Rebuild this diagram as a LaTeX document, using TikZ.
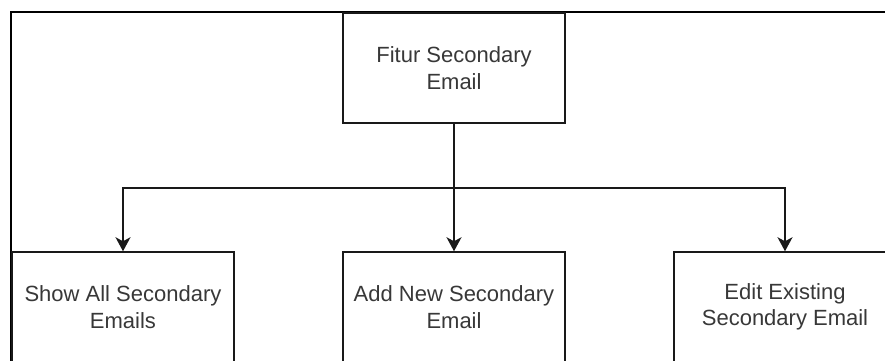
\documentclass[tikz,border=0pt]{standalone}
\usepackage{fontspec}
\setmainfont{Liberation Sans}
\usetikzlibrary{arrows.meta}
\begin{document}
\begin{tikzpicture}[x=1pt,y=-1pt,
  box/.style={draw=black!90, line width=1.5pt, fill=white, minimum width=222pt, minimum height=110pt,
    inner sep=0pt, align=center, text=black!78, font=\fontsize{22}{26.4}\selectfont},
  arr/.style={draw=black!90, line width=1.5pt, -{Stealth[length=14pt,width=15pt,inset=4pt]}},
  frame/.style={draw=black, line width=2pt}]
\useasboundingbox (0,0) rectangle (885,360);
\clip (0,0) rectangle (885,360);
\coordinate (fa) at (11,362);
\coordinate (fb) at (11,12);
\coordinate (fc) at (887,12);
\draw[frame] (fa) -- (fb) -- (fc);
\node[box] (top) at (454,68) {Fitur Secondary\\Email};
\node[box] (show) at (123,307) {Show All Secondary\\Emails};
\node[box] (add) at (454,307) {Add New Secondary\\Email};
\node[box] (edit) at (785,307) {Edit Existing\\Secondary Email};
\path (top.south) ++(0,64) coordinate (j);
\draw[arr] (top.south) -- (add.north);
\draw[arr] (j) -| (show.north);
\draw[arr] (j) -| (edit.north);
\end{tikzpicture}
\end{document}
